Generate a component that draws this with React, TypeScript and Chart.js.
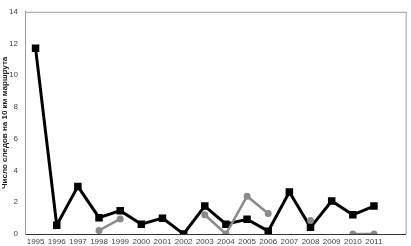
import React, { useEffect, useRef } from "react";
import { Chart, registerables } from "chart.js";

Chart.register(...registerables);

const years = ["1995","1996","1997","1998","1999","2000","2001","2002","2003","2004","2005","2006","2007","2008","2009","2010","2011",""];
const seriesBlack = [11.7, 0.55, 3.0, 1.03, 1.47, 0.62, 1.0, 0.0, 1.76, 0.62, 0.93, 0.18, 2.64, 0.42, 2.08, 1.21, 1.76, null];
const seriesGray = [null, null, null, 0.22, 0.95, null, null, null, 1.21, 0.0, 2.38, 1.29, null, 0.85, null, 0.0, 0.0, null];
const yTitle = "Число следов на 10 км маршрута";

const framePlugin = {
  id: "frame",
  beforeDatasetsDraw(chart: any) {
    const { ctx, chartArea } = chart;
    ctx.save();
    ctx.strokeStyle = "#9a9a9a";
    ctx.lineWidth = 1;
    ctx.beginPath();
    ctx.moveTo(chartArea.left, chartArea.top + 0.5);
    ctx.lineTo(chartArea.right + 0.5, chartArea.top + 0.5);
    ctx.lineTo(chartArea.right + 0.5, chartArea.bottom);
    ctx.stroke();
    ctx.restore();
  },
};

export default function App() {
  const ref = useRef<HTMLCanvasElement | null>(null);
  useEffect(() => {
    document.body.style.margin = "0";
    const chart = new Chart(ref.current as HTMLCanvasElement, {
      type: "line",
      data: {
        labels: years,
        datasets: [
          {
            data: seriesGray,
            borderColor: "#8a8a8a",
            backgroundColor: "#8a8a8a",
            borderWidth: 2.5,
            pointStyle: "circle",
            pointRadius: 3.5,
            pointBorderWidth: 0,
            tension: 0,
            spanGaps: false,
            order: 0,
          },
          {
            data: seriesBlack,
            borderColor: "#000",
            backgroundColor: "#000",
            borderWidth: 3,
            pointStyle: "rect",
            pointRadius: 5.3,
            pointBorderWidth: 0,
            tension: 0,
            order: 1,
          },
        ],
      },
      options: {
        animation: false,
        responsive: false,
        devicePixelRatio: 1,
        layout: { padding: { top: 3, right: 3, left: 0, bottom: 0 } },
        plugins: { legend: { display: false }, tooltip: { enabled: false } },
        scales: {
          x: {
            type: "category",
            offset: true,
            grid: { display: false, drawTicks: false },
            border: { color: "#333", width: 1 },
            ticks: { color: "#444", font: { family: "Liberation Sans", size: 8 }, padding: 3, maxRotation: 0, autoSkip: false },
            afterFit: (s: any) => { s.height = 12; },
          },
          y: {
            min: 0,
            max: 14,
            grid: { display: false, drawTicks: false },
            border: { color: "#9a9a9a", width: 1 },
            ticks: { stepSize: 2, color: "#444", font: { family: "Liberation Sans", size: 8 }, padding: 7 },
            title: { display: true, text: yTitle, color: "#222", font: { family: "Liberation Sans", size: 8, weight: "bold" }, padding: 0 },
            afterFit: (s: any) => { s.width = 25; },
          },
        },
      },
      plugins: [framePlugin],
    });
    return () => chart.destroy();
  }, []);
  return <canvas ref={ref} width={411} height={246} style={{ display: "block" }} />;
}
